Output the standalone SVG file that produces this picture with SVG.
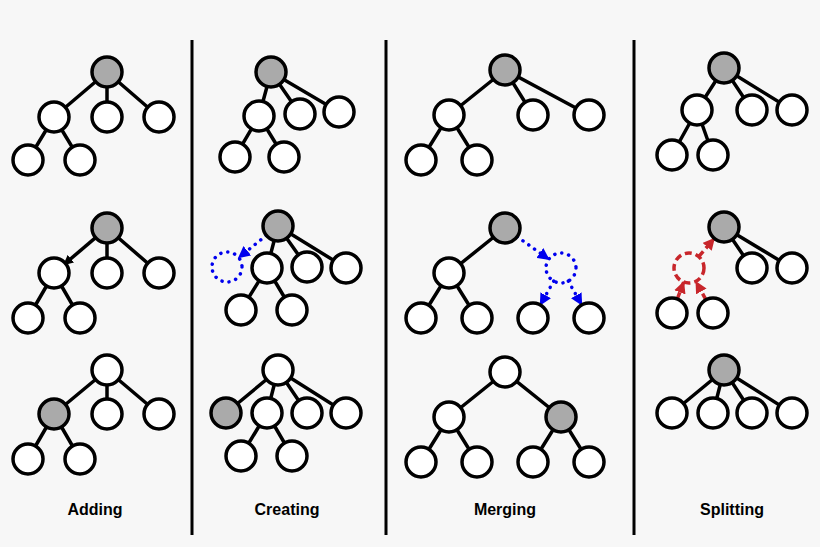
<svg xmlns="http://www.w3.org/2000/svg" width="820" height="547" viewBox="0 0 820 547">
<style>
.e{stroke:#000;stroke-width:3.5}
.n{fill:#fff;stroke:#000;stroke-width:3.5}
.g{fill:#aaa;stroke:#000;stroke-width:3.5}
.d{stroke:#000;stroke-width:3}
.b{stroke:#0000ee;stroke-width:3.5;stroke-dasharray:0.1 7;stroke-linecap:round;fill:none}
.r{stroke:#c8262b;stroke-width:3.5;stroke-dasharray:7 4;fill:none}
.t{font-family:"Liberation Sans",Arial,sans-serif;font-weight:bold;font-size:16px;text-anchor:middle}
</style>
<defs>
<marker id="ak" markerWidth="10" markerHeight="10" refX="9" refY="5" orient="auto" markerUnits="userSpaceOnUse"><path d="M0,0L10,5L0,10z" fill="#000"/></marker>
<marker id="ab" markerWidth="12" markerHeight="12" refX="11" refY="6" orient="auto" markerUnits="userSpaceOnUse"><path d="M0,0L12,6L0,12z" fill="#0000ee"/></marker>
<marker id="ar" markerWidth="12" markerHeight="12" refX="11" refY="6" orient="auto" markerUnits="userSpaceOnUse"><path d="M0,0L12,6L0,12z" fill="#c8262b"/></marker>
</defs>
<rect width="820" height="547" fill="#f7f7f7"/>
<g id="dividers"><line class="d" x1="192" y1="40" x2="192" y2="535"/><line class="d" x1="386" y1="40" x2="386" y2="535"/><line class="d" x1="634" y1="40" x2="634" y2="535"/></g>
<g id="connectors">
<path class="e" d="M107,72L54,117M107,72L107,117M107,72L159,117M54,117L28,160M54,117L80,160"/>
<path class="e" d="M107,228L107,273M107,228L159,273M54,273L28,318M54,273L80,318"/>
<path class="e" d="M107,370L54,414M107,370L107,414M107,370L159,414M54,414L28,459M54,414L80,459"/>
<path class="e" d="M271,72L259,116M271,72L300,114M271,72L339,112M259,116L235,157M259,116L284,157"/>
<path class="e" d="M278,226L267,268M278,226L307,267M278,226L346,268M267,268L241,310M267,268L292,310"/>
<path class="e" d="M278,370L226,413M278,370L267,413M278,370L307,413M278,370L346,413M267,413L241,456M267,413L292,456"/>
<path class="e" d="M505,70L449,115M505,70L533,115M505,70L589,115M449,115L421,160M449,115L477,160"/>
<path class="e" d="M505,228L449,273M449,273L421,318M449,273L477,318"/>
<path class="e" d="M505,372L449,417M505,372L561,417M449,417L421,462M449,417L477,462M561,417L533,462M561,417L589,462"/>
<path class="e" d="M724,68L697,110M724,68L752,110M724,68L792,110M697,110L672,155M697,110L713,155"/>
<path class="e" d="M724,227L752,268M724,227L792,268"/>
<path class="e" d="M724,370L672,413M724,370L713,413M724,370L752,413M724,370L792,413"/>
<line class="e" x1="95.6" y1="237.7" x2="64" y2="264.5" marker-end="url(#ak)"/>
<line class="b" x1="266.3" y1="235.4" x2="238.7" y2="257.6" marker-end="url(#ab)"/>
<circle class="b" cx="227" cy="267" r="15"/>
<line class="b" x1="517.2" y1="236.7" x2="548.8" y2="259.3" marker-end="url(#ab)"/>
<circle class="b" cx="561" cy="268" r="15"/>
<line class="b" x1="553.7" y1="281.1" x2="540.3" y2="304.9" marker-end="url(#ab)"/>
<line class="b" x1="568.3" y1="281.1" x2="581.7" y2="304.9" marker-end="url(#ab)"/>
<line class="r" x1="677.3" y1="299" x2="683.7" y2="282" marker-end="url(#ar)"/>
<line class="r" x1="706" y1="299.8" x2="696" y2="281.8" marker-end="url(#ar)"/>
<circle class="r" cx="689" cy="268" r="15"/>
<line class="r" x1="698.7" y1="256.6" x2="714.3" y2="238.4" marker-end="url(#ar)"/>
</g>
<g id="nodes-adding">
<circle class="g" cx="107" cy="72" r="15"/><circle class="n" cx="54" cy="117" r="15"/><circle class="n" cx="107" cy="117" r="15"/><circle class="n" cx="159" cy="117" r="15"/><circle class="n" cx="28" cy="160" r="15"/><circle class="n" cx="80" cy="160" r="15"/>
<circle class="g" cx="107" cy="228" r="15"/><circle class="n" cx="54" cy="273" r="15"/><circle class="n" cx="107" cy="273" r="15"/><circle class="n" cx="159" cy="273" r="15"/><circle class="n" cx="28" cy="318" r="15"/><circle class="n" cx="80" cy="318" r="15"/>
<circle class="n" cx="107" cy="370" r="15"/><circle class="g" cx="54" cy="414" r="15"/><circle class="n" cx="107" cy="414" r="15"/><circle class="n" cx="159" cy="414" r="15"/><circle class="n" cx="28" cy="459" r="15"/><circle class="n" cx="80" cy="459" r="15"/>
</g>
<g id="nodes-creating">
<circle class="g" cx="271" cy="72" r="15"/><circle class="n" cx="259" cy="116" r="15"/><circle class="n" cx="300" cy="114" r="15"/><circle class="n" cx="339" cy="112" r="15"/><circle class="n" cx="235" cy="157" r="15"/><circle class="n" cx="284" cy="157" r="15"/>
<circle class="g" cx="278" cy="226" r="15"/><circle class="n" cx="267" cy="268" r="15"/><circle class="n" cx="307" cy="267" r="15"/><circle class="n" cx="346" cy="268" r="15"/><circle class="n" cx="241" cy="310" r="15"/><circle class="n" cx="292" cy="310" r="15"/>
<circle class="n" cx="278" cy="370" r="15"/><circle class="g" cx="226" cy="413" r="15"/><circle class="n" cx="267" cy="413" r="15"/><circle class="n" cx="307" cy="413" r="15"/><circle class="n" cx="346" cy="413" r="15"/><circle class="n" cx="241" cy="456" r="15"/><circle class="n" cx="292" cy="456" r="15"/>
</g>
<g id="nodes-merging">
<circle class="g" cx="505" cy="70" r="15"/><circle class="n" cx="449" cy="115" r="15"/><circle class="n" cx="533" cy="115" r="15"/><circle class="n" cx="589" cy="115" r="15"/><circle class="n" cx="421" cy="160" r="15"/><circle class="n" cx="477" cy="160" r="15"/>
<circle class="g" cx="505" cy="228" r="15"/><circle class="n" cx="449" cy="273" r="15"/><circle class="n" cx="421" cy="318" r="15"/><circle class="n" cx="477" cy="318" r="15"/><circle class="n" cx="533" cy="318" r="15"/><circle class="n" cx="589" cy="318" r="15"/>
<circle class="n" cx="505" cy="372" r="15"/><circle class="n" cx="449" cy="417" r="15"/><circle class="g" cx="561" cy="417" r="15"/><circle class="n" cx="421" cy="462" r="15"/><circle class="n" cx="477" cy="462" r="15"/><circle class="n" cx="533" cy="462" r="15"/><circle class="n" cx="589" cy="462" r="15"/>
</g>
<g id="nodes-splitting">
<circle class="g" cx="724" cy="68" r="15"/><circle class="n" cx="697" cy="110" r="15"/><circle class="n" cx="752" cy="110" r="15"/><circle class="n" cx="792" cy="110" r="15"/><circle class="n" cx="672" cy="155" r="15"/><circle class="n" cx="713" cy="155" r="15"/>
<circle class="g" cx="724" cy="227" r="15"/><circle class="n" cx="752" cy="268" r="15"/><circle class="n" cx="792" cy="268" r="15"/><circle class="n" cx="672" cy="313" r="15"/><circle class="n" cx="713" cy="313" r="15"/>
<circle class="g" cx="724" cy="370" r="15"/><circle class="n" cx="672" cy="413" r="15"/><circle class="n" cx="713" cy="413" r="15"/><circle class="n" cx="752" cy="413" r="15"/><circle class="n" cx="792" cy="413" r="15"/>
</g>
<g id="labels">
<text class="t" x="95" y="515">Adding</text><text class="t" x="287" y="515">Creating</text><text class="t" x="505" y="515">Merging</text><text class="t" x="732" y="515">Splitting</text>
</g>
</svg>
